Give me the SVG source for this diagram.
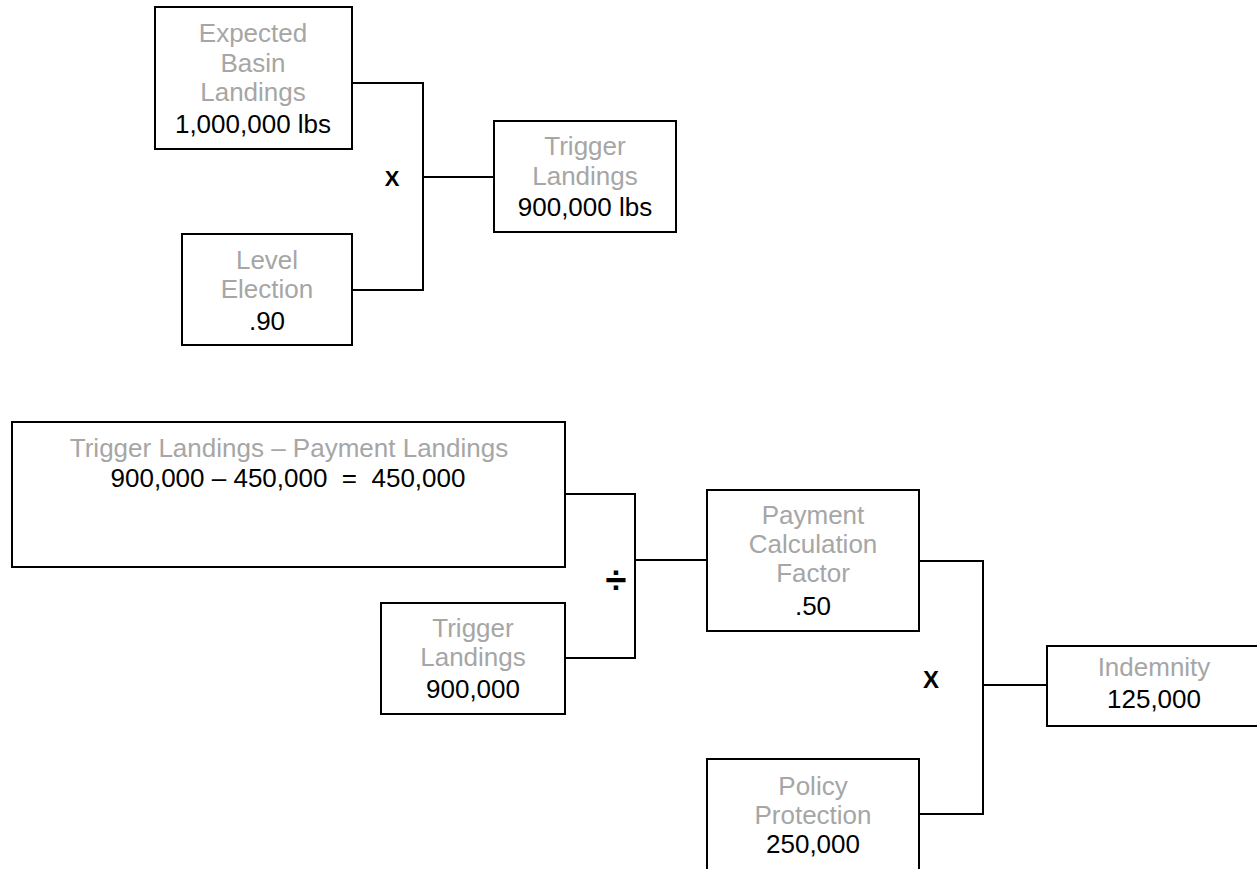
<svg xmlns="http://www.w3.org/2000/svg" width="1257" height="869" viewBox="0 0 1257 869">
<style>
.box{fill:#ffffff;stroke:#000000;stroke-width:2}
.conn{fill:none;stroke:#000000;stroke-width:2}
text{font-family:"Liberation Sans",Arial,sans-serif;font-size:26px;text-anchor:middle}
.lbl{fill:#a6a6a6}
.val{fill:#000000}
.op{fill:#000000;font-weight:bold}
</style>
<rect width="1257" height="869" fill="#ffffff"/>
<g id="connectors">
<polyline class="conn" points="352,83 423,83 423,290 352,290"/>
<line class="conn" x1="423" y1="177" x2="494" y2="177"/>
<polyline class="conn" points="565,494 635,494 635,658 565,658"/>
<line class="conn" x1="635" y1="560" x2="707" y2="560"/>
<polyline class="conn" points="919,561 983,561 983,814 919,814"/>
<line class="conn" x1="983" y1="685" x2="1047" y2="685"/>
<text class="op" x="392" y="186" style="font-size:22px">X</text>
<text class="op" x="616" y="593" style="font-size:38px">÷</text>
<text class="op" x="931" y="688" style="font-size:24px">X</text>
</g>
<g id="expected-basin-landings">
<rect class="box" x="155" y="7" width="197" height="142"/>
<text class="lbl" x="253" y="42">Expected</text>
<text class="lbl" x="253" y="72">Basin</text>
<text class="lbl" x="253" y="101">Landings</text>
<text class="val" x="253" y="133">1,000,000 lbs</text>
</g>
<g id="level-election">
<rect class="box" x="182" y="234" width="170" height="111"/>
<text class="lbl" x="267" y="269">Level</text>
<text class="lbl" x="267" y="298">Election</text>
<text class="val" x="267" y="330">.90</text>
</g>
<g id="trigger-landings">
<rect class="box" x="494" y="121" width="182" height="111"/>
<text class="lbl" x="585" y="155">Trigger</text>
<text class="lbl" x="585" y="185">Landings</text>
<text class="val" x="585" y="216">900,000 lbs</text>
</g>
<g id="difference">
<rect class="box" x="12" y="422" width="553" height="145"/>
<text class="lbl" x="289" y="457">Trigger Landings – Payment Landings</text>
<text class="val" x="288" y="487" xml:space="preserve">900,000 – 450,000  =  450,000</text>
</g>
<g id="trigger-landings-2">
<rect class="box" x="381" y="603" width="184" height="111"/>
<text class="lbl" x="473" y="637">Trigger</text>
<text class="lbl" x="473" y="666">Landings</text>
<text class="val" x="473" y="698">900,000</text>
</g>
<g id="payment-calculation-factor">
<rect class="box" x="707" y="490" width="212" height="141"/>
<text class="lbl" x="813" y="524">Payment</text>
<text class="lbl" x="813" y="553">Calculation</text>
<text class="lbl" x="813" y="582">Factor</text>
<text class="val" x="813" y="615">.50</text>
</g>
<g id="policy-protection">
<rect class="box" x="707" y="759" width="212" height="130"/>
<text class="lbl" x="813" y="795">Policy</text>
<text class="lbl" x="813" y="824">Protection</text>
<text class="val" x="813" y="853">250,000</text>
</g>
<g id="indemnity">
<rect class="box" x="1047" y="646" width="214" height="80"/>
<text class="lbl" x="1154" y="676">Indemnity</text>
<text class="val" x="1154" y="708">125,000</text>
</g>
</svg>
